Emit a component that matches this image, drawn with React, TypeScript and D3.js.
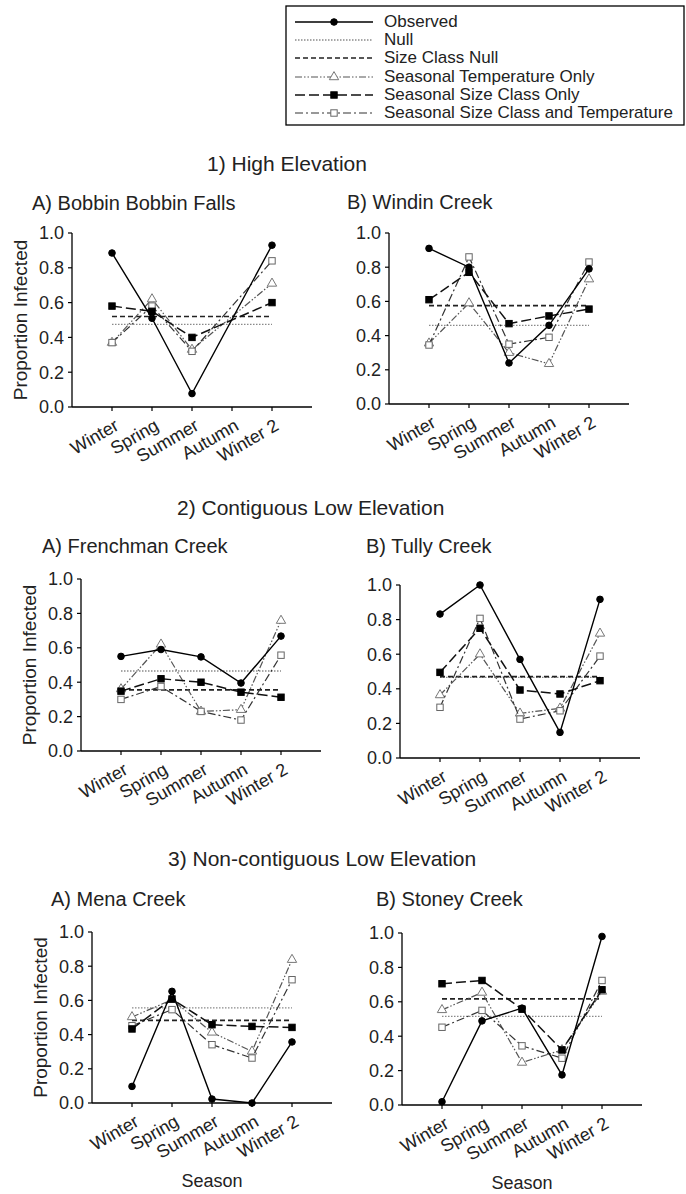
import React from "react";
import * as d3 from "d3";

// ---------- DATA ----------
const seasons = ["Winter", "Spring", "Summer", "Autumn", "Winter 2"];
const yTickValues = [0, 0.2, 0.4, 0.6, 0.8, 1.0];
const legendLabels = [
  "Observed",
  "Null",
  "Size Class Null",
  "Seasonal Temperature Only",
  "Seasonal Size Class Only",
  "Seasonal Size Class and Temperature",
];
const sectionTitles = [
  "1) High Elevation",
  "2) Contiguous Low Elevation",
  "3) Non-contiguous Low Elevation",
];
const panelTitles = [
  "A) Bobbin Bobbin Falls",
  "B) Windin Creek",
  "A) Frenchman Creek",
  "B) Tully Creek",
  "A) Mena Creek",
  "B) Stoney Creek",
];

// 1A Bobbin Bobbin Falls (no autumn sample)
const bobbinObserved = [0.885, 0.51, 0.077, null, 0.93];
const bobbinTemp = [0.37, 0.62, 0.33, null, 0.71];
const bobbinSize = [0.58, 0.55, 0.4, null, 0.6];
const bobbinSizeTemp = [0.37, 0.58, 0.32, null, 0.84];
// 1B Windin Creek
const windinObserved = [0.91, 0.8, 0.24, 0.46, 0.79];
const windinTemp = [0.355, 0.59, 0.3, 0.235, 0.73];
const windinSize = [0.61, 0.77, 0.47, 0.515, 0.555];
const windinSizeTemp = [0.345, 0.86, 0.35, 0.39, 0.83];
// 2A Frenchman Creek
const frenchObserved = [0.55, 0.59, 0.547, 0.395, 0.668];
const frenchTemp = [0.36, 0.62, 0.23, 0.24, 0.758];
const frenchSize = [0.348, 0.42, 0.4, 0.342, 0.3125];
const frenchSizeTemp = [0.3, 0.375, 0.23, 0.18, 0.557];
// 2B Tully Creek
const tullyObserved = [0.832, 1.0, 0.57, 0.148, 0.917];
const tullyTemp = [0.364, 0.6, 0.258, 0.287, 0.72];
const tullySize = [0.495, 0.75, 0.393, 0.37, 0.447];
const tullySizeTemp = [0.293, 0.807, 0.225, 0.273, 0.589];
// 3A Mena Creek
const menaObserved = [0.097, 0.653, 0.023, 0.0, 0.357];
const menaTemp = [0.503, 0.604, 0.413, 0.302, 0.838];
const menaSize = [0.433, 0.608, 0.458, 0.448, 0.442];
const menaSizeTemp = [0.452, 0.546, 0.341, 0.263, 0.721];
// 3B Stoney Creek
const stoneyObserved = [0.019, 0.489, 0.563, 0.175, 0.98];
const stoneyTemp = [0.553, 0.654, 0.247, 0.32, 0.66];
const stoneySize = [0.705, 0.724, 0.557, 0.32, 0.67];
const stoneySizeTemp = [0.452, 0.55, 0.344, 0.272, 0.724];

// constant null models, one per panel (in panel order)
const nullValues = [0.475, 0.46, 0.465, 0.466, 0.556, 0.515];
const sizeClassNullValues = [0.52, 0.575, 0.355, 0.47, 0.483, 0.617];

// ---------- LAYOUT / STYLE ----------
const FONT = "'Liberation Sans', Arial, Helvetica, sans-serif";
const TEXT = "#222";

type Panel = {
  x0: number;
  yTop: number;
  yBot: number;
  tx: number;
  ty: number;
  yTitle: boolean;
  xTitle: boolean;
  series: (number | null)[][];
};

const panels: Panel[] = [
  { x0: 72, yTop: 233, yBot: 407, tx: 32, ty: 210, yTitle: true, xTitle: false,
    series: [bobbinObserved, bobbinTemp, bobbinSize, bobbinSizeTemp] },
  { x0: 389, yTop: 233, yBot: 404, tx: 347, ty: 209, yTitle: false, xTitle: false,
    series: [windinObserved, windinTemp, windinSize, windinSizeTemp] },
  { x0: 81, yTop: 579, yBot: 751, tx: 42, ty: 553, yTitle: true, xTitle: false,
    series: [frenchObserved, frenchTemp, frenchSize, frenchSizeTemp] },
  { x0: 400, yTop: 585, yBot: 758, tx: 366, ty: 553, yTitle: false, xTitle: false,
    series: [tullyObserved, tullyTemp, tullySize, tullySizeTemp] },
  { x0: 92, yTop: 932, yBot: 1103, tx: 51, ty: 906, yTitle: true, xTitle: true,
    series: [menaObserved, menaTemp, menaSize, menaSizeTemp] },
  { x0: 402, yTop: 933, yBot: 1105, tx: 376, ty: 906, yTitle: false, xTitle: true,
    series: [stoneyObserved, stoneyTemp, stoneySize, stoneySizeTemp] },
];

const sectionPos = [
  { x: 207, y: 171 },
  { x: 177, y: 515 },
  { x: 168, y: 866 },
];

type Style = {
  dash?: string;
  stroke: string;
  width: number;
  marker?: "circle" | "square" | "triangle";
  fill?: string;
  mstroke?: string;
};

// order: observed, temp only, size only, size+temp
const seriesStyles: Style[] = [
  { stroke: "#000", width: 1.4, marker: "circle", fill: "#000", mstroke: "#000" },
  { dash: "7,2,1.5,2,1.5,2", stroke: "#555", width: 1.2, marker: "triangle", fill: "#fff", mstroke: "#777" },
  { dash: "10,4", stroke: "#111", width: 1.5, marker: "square", fill: "#000", mstroke: "#000" },
  { dash: "8,3,2,3", stroke: "#333", width: 1.2, marker: "square", fill: "#fff", mstroke: "#666" },
];
const nullStyle: Style = { dash: "1.5,1.5", stroke: "#8a8a8a", width: 1.3 };
const sizeNullStyle: Style = { dash: "5,3", stroke: "#222", width: 1.7 };

// legend styles in legend order
const legendStyles: Style[] = [
  seriesStyles[0],
  nullStyle,
  sizeNullStyle,
  seriesStyles[1],
  seriesStyles[2],
  seriesStyles[3],
];

function Marker({ s, x, y }: { s: Style; x: number; y: number }) {
  if (!s.marker) return null;
  const common = { fill: s.fill, stroke: s.mstroke, strokeWidth: 1 };
  if (s.marker === "circle") return <circle cx={x} cy={y} r={3.3} {...common} />;
  if (s.marker === "square")
    return <rect x={x - 3.2} y={y - 3.2} width={6.4} height={6.4} {...common} />;
  const sym = d3.symbol().type(d3.symbolTriangle).size(38)();
  return <path d={sym || ""} transform={`translate(${x},${y})`} {...common} />;
}

function PanelView({ p, idx }: { p: Panel; idx: number }) {
  const x = d3.scaleLinear().domain([0, 6]).range([p.x0, p.x0 + 240]);
  const y = d3.scaleLinear().domain([0, 1]).range([p.yBot, p.yTop]);
  // connect across missing values (Bobbin has no autumn)
  const drawPath = (vals: (number | null)[]) => {
    const pts = vals
      .map((v, i) => (v == null ? null : ([x(i + 1), y(v)] as [number, number])))
      .filter((d): d is [number, number] => d != null);
    return d3.line()(pts) || "";
  };
  const order = [1, 3, 2, 0];
  return (
    <g>
      <text x={p.tx} y={p.ty} fontSize={20} fill={TEXT} fontFamily={FONT}>
        {panelTitles[idx]}
      </text>
      {/* axes */}
      <line x1={p.x0} x2={p.x0} y1={p.yTop} y2={p.yBot} stroke="#000" strokeWidth={1.3} />
      <line x1={p.x0} x2={p.x0 + 240} y1={p.yBot} y2={p.yBot} stroke="#000" strokeWidth={1.3} />
      {yTickValues.map((t) => (
        <g key={t}>
          <line x1={p.x0 - 4} x2={p.x0} y1={y(t)} y2={y(t)} stroke="#000" strokeWidth={1.2} />
          <text x={p.x0 - 8} y={y(t)} dy="0.36em" textAnchor="end" fontSize={18} fill={TEXT} fontFamily={FONT}>
            {t.toFixed(1)}
          </text>
        </g>
      ))}
      {seasons.map((s, i) => (
        <g key={s}>
          <line x1={x(i + 1)} x2={x(i + 1)} y1={p.yBot} y2={p.yBot + 4} stroke="#000" strokeWidth={1.2} />
          <text
            transform={`translate(${x(i + 1) + 8},${p.yBot + 22}) rotate(-30)`}
            textAnchor="end"
            fontSize={18}
            fill={TEXT}
            fontFamily={FONT}
          >
            {s}
          </text>
        </g>
      ))}
      {p.yTitle && (
        <text
          transform={`translate(${p.x0 - 45},${(p.yTop + p.yBot) / 2}) rotate(-90)`}
          textAnchor="middle"
          fontSize={19}
          fill={TEXT}
          fontFamily={FONT}
        >
          Proportion Infected
        </text>
      )}
      {p.xTitle && (
        <text x={x(3)} y={p.yBot + 84} textAnchor="middle" fontSize={18} fill={TEXT} fontFamily={FONT}>
          Season
        </text>
      )}
      {/* null models */}
      <line x1={x(1)} x2={x(5)} y1={y(nullValues[idx])} y2={y(nullValues[idx])}
        stroke={nullStyle.stroke} strokeWidth={nullStyle.width} strokeDasharray={nullStyle.dash} />
      <line x1={x(1)} x2={x(5)} y1={y(sizeClassNullValues[idx])} y2={y(sizeClassNullValues[idx])}
        stroke={sizeNullStyle.stroke} strokeWidth={sizeNullStyle.width} strokeDasharray={sizeNullStyle.dash} />
      {order.map((k) => {
        const s = seriesStyles[k];
        const vals = p.series[k];
        return (
          <g key={k}>
            <path d={drawPath(vals)} fill="none" stroke={s.stroke} strokeWidth={s.width} strokeDasharray={s.dash} />
            {vals.map((v, i) => (v == null ? null : <Marker key={i} s={s} x={x(i + 1)} y={y(v)} />))}
          </g>
        );
      })}
    </g>
  );
}

export default function App() {
  const legX = 286;
  const lineEnd = 373;
  const legRows = [22, 40, 58, 77, 95, 113];
  return (
    <svg
      width={686}
      height={1194}
      style={{ position: "absolute", left: 0, top: 0, background: "#fff" }}
      fontFamily={FONT}
    >
      <rect x={0} y={0} width={686} height={1194} fill="#fff" />
      {/* legend */}
      <rect x={legX} y={6} width={684 - legX} height={119} fill="#fff" stroke="#000" strokeWidth={1.3} />
      {legendLabels.map((lab, i) => {
        const s = legendStyles[i];
        const cy = legRows[i];
        return (
          <g key={lab}>
            <line x1={legX + 9} x2={lineEnd} y1={cy} y2={cy} stroke={s.stroke} strokeWidth={s.width} strokeDasharray={s.dash} />
            <Marker s={s} x={(legX + 9 + lineEnd) / 2} y={cy} />
            <text x={384} y={cy + 5} fontSize={17} fill={TEXT} fontFamily={FONT}>
              {lab}
            </text>
          </g>
        );
      })}
      {sectionTitles.map((t, i) => (
        <text key={t} x={sectionPos[i].x} y={sectionPos[i].y} fontSize={21} fill={TEXT} fontFamily={FONT}>
          {t}
        </text>
      ))}
      {panels.map((p, i) => (
        <PanelView key={i} p={p} idx={i} />
      ))}
    </svg>
  );
}
